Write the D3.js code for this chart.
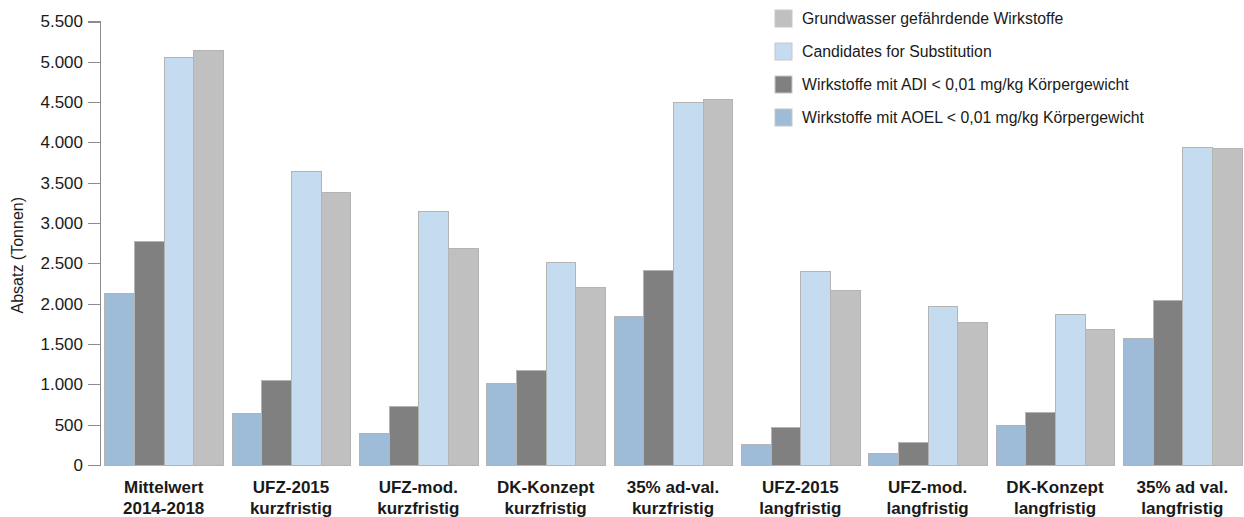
<!DOCTYPE html>
<html>
<meta charset="utf-8">
<title>Absatz Wirkstoffe</title>
<style>
  body { margin: 0; background: #fff; }
  #chart text { font-family: "Liberation Sans", Arial, sans-serif; fill: #1a1a1a; }
  .bar { stroke: #b4b4b4; stroke-width: 1; shape-rendering: crispEdges; }
  .axis path, .axis line { stroke: #8c8c8c; shape-rendering: crispEdges; }
</style>
<body>
<div id="chart"></div>
<script src="https://d3js.org/d3.v7.min.js"></script>
<script>

// categories (two-line labels)
const categories = [
  ['Mittelwert', '2014-2018'],
  ['UFZ-2015', 'kurzfristig'],
  ['UFZ-mod.', 'kurzfristig'],
  ['DK-Konzept', 'kurzfristig'],
  ['35% ad-val.', 'kurzfristig'],
  ['UFZ-2015', 'langfristig'],
  ['UFZ-mod.', 'langfristig'],
  ['DK-Konzept', 'langfristig'],
  ['35% ad val.', 'langfristig']
];

// series values (Tonnen)
const aoel = [2130, 640, 385, 1005, 1845, 260, 145, 495, 1565];
const adi = [2770, 1045, 720, 1170, 2410, 460, 275, 648, 2045];
const cfs = [5058, 3640, 3145, 2512, 4500, 2395, 1962, 1868, 3940];
const grundwasser = [5138, 3374, 2680, 2205, 4530, 2170, 1770, 1685, 3928];

const seriesNames = [
  'Wirkstoffe mit AOEL < 0,01 mg/kg Körpergewicht',
  'Wirkstoffe mit ADI < 0,01 mg/kg Körpergewicht',
  'Candidates for Substitution',
  'Grundwasser gefährdende Wirkstoffe'
];
const seriesColors = ['#9ebcd7', '#808080', '#c5dbef', '#c0c0c0'];
const yTicks = [0, 500, 1000, 1500, 2000, 2500, 3000, 3500, 4000, 4500, 5000, 5500];

const series = [aoel, adi, cfs, grundwasser];

const width = 1244;
const height = 517;
const margin = {top: 21.5, right: 0, bottom: 52, left: 100};

const svg = d3.select('#chart').append('svg')
  .attr('width', width)
  .attr('height', height);

const x0 = d3.scaleBand()
  .domain(d3.range(categories.length))
  .range([margin.left, 1246])
  .paddingInner(0.066)
  .paddingOuter(0.033);

const x1 = d3.scaleBand()
  .domain(d3.range(series.length))
  .range([0, x0.bandwidth()]);

const y = d3.scaleLinear()
  .domain([0, 5500])
  .range([height - margin.bottom, margin.top]);

// bars
const group = svg.append('g').selectAll('g')
  .data(categories.map((c, i) => i))
  .join('g')
  .attr('transform', i => `translate(${x0(i)},0)`);

group.selectAll('rect')
  .data(i => series.map((s, k) => ({k: k, v: s[i]})))
  .join('rect')
  .attr('class', 'bar')
  .attr('x', d => x1(d.k) + 0.5)
  .attr('width', x1.bandwidth())
  .attr('y', d => y(d.v))
  .attr('height', d => y(0) - y(d.v))
  .style('fill', d => seriesColors[d.k]);

// y axis
const yAxis = svg.append('g')
  .attr('class', 'axis')
  .attr('transform', `translate(${margin.left},0)`)
  .call(d3.axisLeft(y)
    .tickValues(yTicks)
    .tickSize(12)
    .tickPadding(5)
    .tickFormat(d => d3.format(',')(d).replace(/,/g, '.')));

yAxis.select('.domain').attr('d', `M-12,${y(0)}H0V${y(5500)}H-12`);
yAxis.selectAll('text')
  .style('font-size', '17px');

svg.append('text')
  .attr('transform', `translate(23,${(y(0) + y(5500)) / 2 + 12}) rotate(-90)`)
  .attr('text-anchor', 'middle')
  .style('font-size', '16px')
  .text('Absatz (Tonnen)');

// x labels
const xl = svg.append('g').selectAll('text')
  .data(categories)
  .join('text')
  .attr('x', (c, i) => x0(i) + x0.bandwidth() / 2)
  .attr('y', 493)
  .attr('text-anchor', 'middle')
  .style('font-size', '17px')
  .style('font-weight', 'bold');

xl.append('tspan').text(c => c[0]);
xl.append('tspan')
  .attr('x', (c, i) => x0(i) + x0.bandwidth() / 2)
  .attr('dy', 21)
  .text(c => c[1]);

// legend (reverse order)
const legendOrder = [3, 2, 1, 0];
const legend = svg.append('g').selectAll('g')
  .data(legendOrder)
  .join('g')
  .attr('transform', (k, i) => `translate(775,${10 + i * 33})`);

legend.append('rect')
  .attr('width', 17)
  .attr('height', 17)
  .style('fill', k => seriesColors[k])
  .style('stroke', '#c8c8c8');

legend.append('text')
  .attr('x', 27)
  .attr('y', 14)
  .style('font-size', '15.8px')
  .text(k => seriesNames[k]);

</script>
</body>
</html>
